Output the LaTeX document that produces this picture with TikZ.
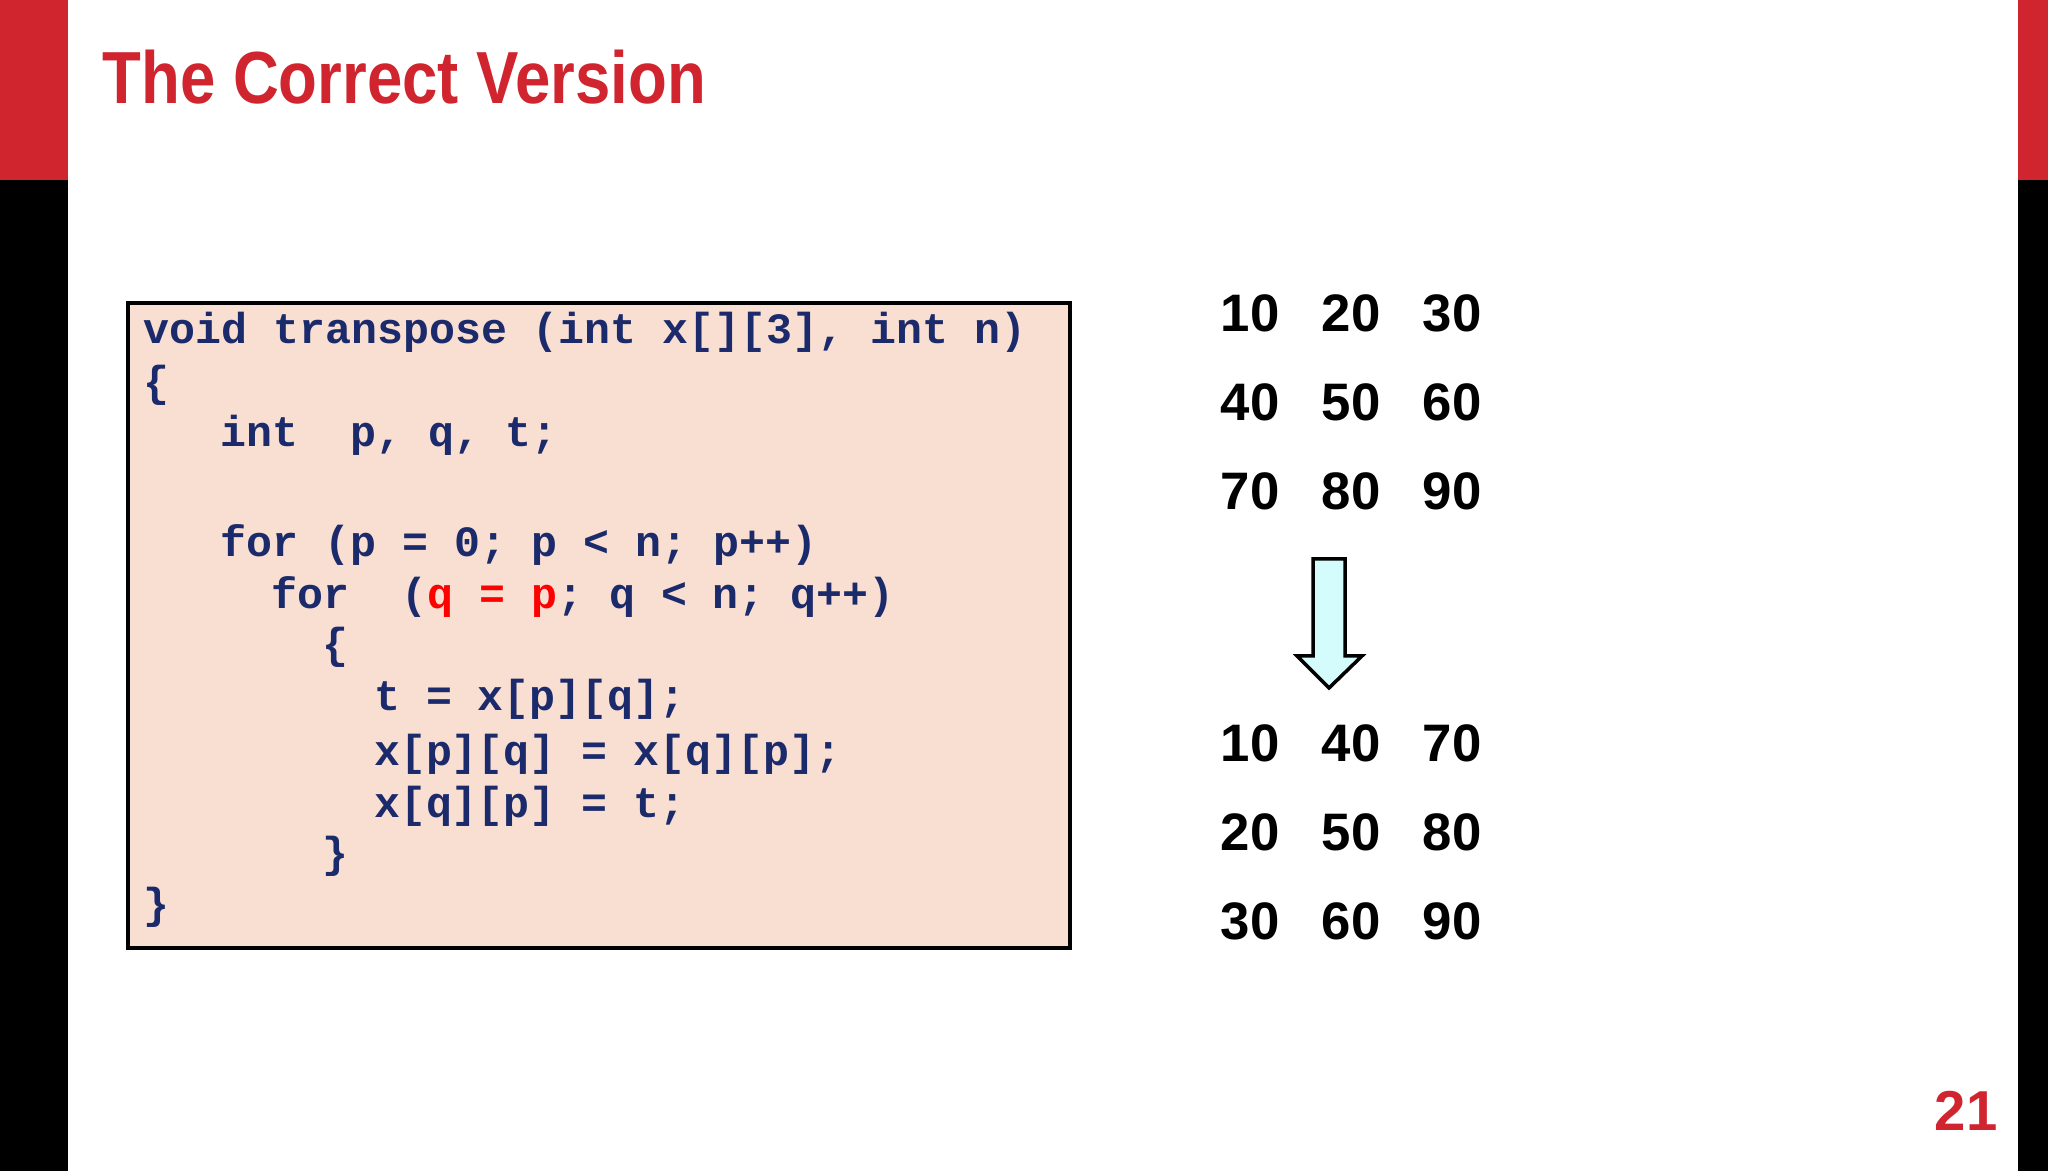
\documentclass[tikz,border=0pt]{standalone}
\usepackage{fontspec}
\setmainfont{Liberation Sans}
\newfontfamily\codefont{Liberation Mono}
\definecolor{slidered}{HTML}{D0252F}
\definecolor{codeblue}{HTML}{1B2A6B}
\definecolor{boxpink}{HTML}{F9DED2}
\definecolor{arrowcyan}{HTML}{D4FCFC}
\tikzset{
  codeline/.style={anchor=west,inner sep=0pt,font=\codefont\bfseries\fontsize{12.3}{14}\selectfont,text=codeblue},
  num/.style={inner sep=0pt,font=\bfseries\fontsize{15}{18}\selectfont}
}
\begin{document}
\begin{tikzpicture}[x=0.01cm,y=-0.01cm]
\useasboundingbox (0,0) rectangle (2048,1171);
\fill[white] (0,0) rectangle (2048,1171);
\fill[black] (0,0) rectangle (68,1171);
\fill[slidered] (0,0) rectangle (68,180);
\fill[black] (2018,0) rectangle (2048,1171);
\fill[slidered] (2018,0) rectangle (2048,180);
\node[anchor=west,inner sep=0pt,text=slidered,font=\bfseries\fontsize{21}{26}\selectfont,xscale=0.86] (title) at (102,77) {The Correct Version};
\draw[line width=1.2pt,fill=boxpink] (128,303) rectangle (1070,948);
\coordinate (box) at (128,303);
\def\cw{25.6}
\node[codeline] (l1) at (143,332) {void transpose (int x[][3], int n)};
\node[codeline] (l2) at (143,385) {\{};
\node[codeline] (l3) at (143+3*\cw,435) {int\ \ p, q, t;};
\node[codeline] (l4) at (143+3*\cw,545) {for (p = 0; p < n; p++)};
\node[codeline] (l5) at (143+5*\cw,597) {for\ \ (\textcolor{red}{q = p}; q < n; q++)};
\node[codeline] (l6) at (143+7*\cw,647) {\{};
\node[codeline] (l7) at (143+9*\cw,699) {t = x[p][q];};
\node[codeline] (l8) at (143+9*\cw,754) {x[p][q] = x[q][p];};
\node[codeline] (l9) at (143+9*\cw,806) {x[q][p] = t;};
\node[codeline] (l10) at (143+7*\cw,856) {\}};
\node[codeline] (l11) at (143,907) {\}};
\foreach \r/\y/\a/\b/\c in {1/313/10/20/30,2/402/40/50/60,3/491/70/80/90,4/743/10/40/70,5/832/20/50/80,6/921/30/60/90}{
  \node[num] (n\r a) at (1250,\y) {\a};
  \node[num] (n\r b) at (1351,\y) {\b};
  \node[num] (n\r c) at (1452,\y) {\c};
}
\draw[fill=arrowcyan,line width=1pt,line join=miter] (1313,559) -- (1345,559) -- (1345,656) -- (1362,656) -- (1329,688) -- (1297,656) -- (1313,656) -- cycle;
\node[anchor=east,inner sep=0pt,text=slidered,font=\bfseries\fontsize{16}{19}\selectfont] (page) at (1998,1111) {21};
\end{tikzpicture}
\end{document}
